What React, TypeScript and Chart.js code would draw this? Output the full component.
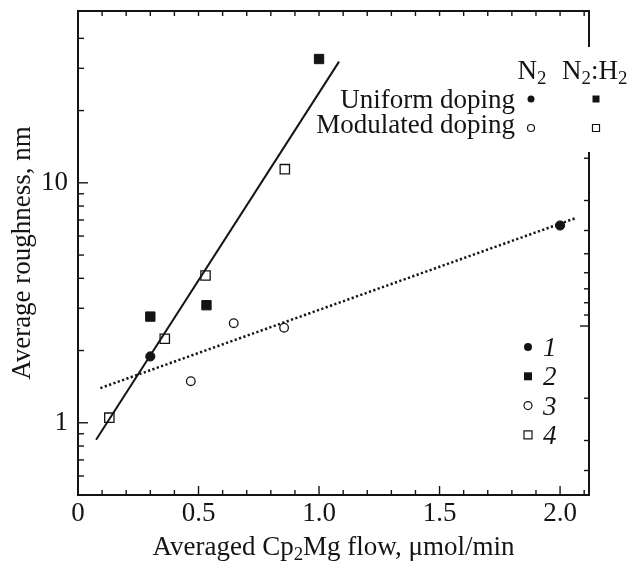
import React, { useEffect, useRef } from "react";
import { Chart, registerables } from "chart.js";

Chart.register(...registerables);

const FONT = "'Liberation Serif', 'Times New Roman', serif";
const INK = "#141414";
const FS = 27;

// Data
const uniformN2X = [0.3, 2.0];
const uniformN2Y = [1.89, 6.64];
const uniformN2H2X = [0.3, 0.533, 1.0];
const uniformN2H2Y = [2.77, 3.09, 32.8];
const modulatedN2X = [0.468, 0.646, 0.855];
const modulatedN2Y = [1.49, 2.6, 2.49];
const modulatedN2H2X = [0.13, 0.36, 0.529, 0.858];
const modulatedN2H2Y = [1.05, 2.24, 4.11, 11.4];
const fitSolidX = [0.075, 1.083];
const fitSolidY = [0.85, 32];
const fitDottedX = [0.093, 2.065];
const fitDottedY = [1.395, 7.13];

// Ticks
const xTicks = [0, 0.1, 0.2, 0.3, 0.4, 0.5, 0.6, 0.7, 0.8, 0.9, 1.0, 1.1, 1.2, 1.3, 1.4, 1.5, 1.6, 1.7, 1.8, 1.9, 2.0, 2.1];
const xMajor = [0, 0.5, 1.0, 1.5, 2.0];
const xLabels = ["0", "0.5", "1.0", "1.5", "2.0"];
const yTicksLeft = [0.6, 0.7, 0.8, 0.9, 1, 2, 3, 4, 5, 6, 7, 8, 9, 10, 20, 30, 40];
const yMajorLeft = [1, 10];
const yLabelsLeft = ["1", "10"];
const yTicksRight = [2, 3, 4, 5, 6, 7, 8, 9, 10, 20, 30, 40];
const yMajorRight = [10];

const legendNumbers = ["1", "2", "3", "4"];
const legendRows = ["Uniform doping", "Modulated doping"];
const xTitle = [
  { t: "Averaged Cp" },
  { t: "2", sub: true },
  { t: "Mg flow, \u03bcmol/min" },
];
const yTitle = "Average roughness, nm";

const pts = (xs: number[], ys: number[]) => xs.map((x, i) => ({ x, y: ys[i] }));

type Part = { t: string; sub?: boolean };

function drawRich(ctx: CanvasRenderingContext2D, parts: Part[], x: number, y: number, align: "left" | "center" | "right", size: number) {
  const subSize = size * 0.7;
  const widths = parts.map((p) => {
    ctx.font = `${p.sub ? subSize : size}px ${FONT}`;
    return ctx.measureText(p.t).width;
  });
  const total = widths.reduce((a, b) => a + b, 0);
  let cx = align === "left" ? x : align === "center" ? x - total / 2 : x - total;
  ctx.textAlign = "left";
  ctx.textBaseline = "alphabetic";
  parts.forEach((p, i) => {
    ctx.font = `${p.sub ? subSize : size}px ${FONT}`;
    ctx.fillText(p.t, cx, p.sub ? y + size * 0.2 : y);
    cx += widths[i];
  });
}

function symbol(ctx: CanvasRenderingContext2D, kind: "fc" | "fs" | "oc" | "os", x: number, y: number, r: number) {
  ctx.beginPath();
  if (kind === "fc" || kind === "oc") ctx.arc(x, y, r, 0, Math.PI * 2);
  else ctx.rect(x - r, y - r, 2 * r, 2 * r);
  if (kind === "fc" || kind === "fs") {
    ctx.fillStyle = INK;
    ctx.fill();
  } else {
    ctx.fillStyle = "#fff";
    ctx.fill();
    ctx.lineWidth = 1.2;
    ctx.strokeStyle = INK;
    ctx.stroke();
  }
}

const decorPlugin = {
  id: "decor",
  afterDraw(chart: any) {
    const { ctx, chartArea: ca, scales } = chart;
    ctx.save();
    ctx.strokeStyle = INK;
    ctx.lineWidth = 1.4;
    const seg = (x1: number, y1: number, x2: number, y2: number) => {
      ctx.beginPath();
      ctx.moveTo(x1, y1);
      ctx.lineTo(x2, y2);
      ctx.stroke();
    };
    // inward tick marks
    for (const t of scales.x.ticks) {
      const px = scales.x.getPixelForValue(t.value);
      const len = xMajor.includes(t.value) ? 9 : 5;
      seg(px, ca.bottom, px, ca.bottom - len);
    }
    for (const t of scales.x2.ticks) {
      const px = scales.x2.getPixelForValue(t.value);
      seg(px, ca.top, px, ca.top + 5);
    }
    for (const t of scales.y.ticks) {
      const py = scales.y.getPixelForValue(t.value);
      const len = yMajorLeft.includes(t.value) ? 10 : 6;
      seg(ca.left, py, ca.left + len, py);
    }
    for (const t of scales.y2.ticks) {
      const py = scales.y2.getPixelForValue(t.value);
      const len = yMajorRight.includes(t.value) ? 9 : 5;
      seg(ca.right, py, ca.right - len, py);
    }

    // gap in right border behind the legend
    ctx.fillStyle = "#fff";
    ctx.fillRect(ca.right - 4, ca.top + 36, 8, 105);

    // header legend
    ctx.fillStyle = INK;
    const col1 = ca.right - 58;
    const col2 = ca.right + 7;
    drawRich(ctx, [{ t: "N" }, { t: "2", sub: true }], col1 + 1, ca.top + 68, "center", FS);
    drawRich(ctx, [{ t: "N" }, { t: "2", sub: true }, { t: ":H" }, { t: "2", sub: true }], ca.right - 27, ca.top + 68, "left", FS);
    drawRich(ctx, [{ t: legendRows[0] }], col1 - 16, ca.top + 97, "right", FS);
    drawRich(ctx, [{ t: legendRows[1] }], col1 - 16, ca.top + 122, "right", FS);
    symbol(ctx, "fc", col1, ca.top + 88, 3.5);
    symbol(ctx, "fs", col2, ca.top + 88, 3.5);
    symbol(ctx, "oc", col1, ca.top + 117, 3.5);
    symbol(ctx, "os", col2, ca.top + 117, 3.5);

    // numbered legend
    const kinds: ("fc" | "fs" | "oc" | "os")[] = ["fc", "fs", "oc", "os"];
    const lx = ca.right - 61;
    legendNumbers.forEach((n, i) => {
      const cy = ca.top + 336 + i * 29.3;
      symbol(ctx, kinds[i], lx, cy, 4);
      ctx.fillStyle = INK;
      ctx.font = `italic ${FS}px ${FONT}`;
      ctx.textAlign = "left";
      ctx.textBaseline = "alphabetic";
      ctx.fillText(n, lx + 15, cy + 9);
    });

    // x axis title
    ctx.fillStyle = INK;
    drawRich(ctx, xTitle, (ca.left + ca.right) / 2, ca.bottom + 60, "center", FS);
    ctx.restore();
  },
};

export default function App() {
  const ref = useRef<HTMLCanvasElement | null>(null);

  useEffect(() => {
    document.body.style.margin = "0";
    const canvas = ref.current;
    if (!canvas) return;
    const tickFont = { family: FONT, size: FS };
    const fitX = (h: number) => (s: any) => {
      s.height = h;
      s.paddingLeft = 0;
      s.paddingRight = 0;
    };
    const fitY = (w: number) => (s: any) => {
      s.width = w;
      s.paddingTop = 0;
      s.paddingBottom = 0;
    };
    const chart = new Chart(canvas, {
      type: "scatter",
      data: {
        datasets: [
          {
            data: pts(fitSolidX, fitSolidY),
            showLine: true,
            borderColor: INK,
            borderWidth: 2,
            pointRadius: 0,
            xAxisID: "x",
            yAxisID: "y",
          },
          {
            data: pts(fitDottedX, fitDottedY),
            showLine: true,
            borderColor: INK,
            borderWidth: 2.5,
            borderDash: [2.2, 2.4],
            pointRadius: 0,
            xAxisID: "x",
            yAxisID: "y",
          },
          {
            data: pts(uniformN2X, uniformN2Y),
            pointStyle: "circle",
            pointRadius: 4.6,
            backgroundColor: INK,
            borderColor: INK,
            borderWidth: 1,
            xAxisID: "x",
            yAxisID: "y",
          },
          {
            data: pts(uniformN2H2X, uniformN2H2Y),
            pointStyle: "rect",
            pointRadius: 6.6,
            backgroundColor: INK,
            borderColor: INK,
            borderWidth: 1,
            xAxisID: "x",
            yAxisID: "y",
          },
          {
            data: pts(modulatedN2X, modulatedN2Y),
            pointStyle: "circle",
            pointRadius: 4.3,
            backgroundColor: "#fff",
            borderColor: INK,
            borderWidth: 1.3,
            xAxisID: "x",
            yAxisID: "y",
          },
          {
            data: pts(modulatedN2H2X, modulatedN2H2Y),
            pointStyle: "rect",
            pointRadius: 6.6,
            backgroundColor: "#fff",
            borderColor: INK,
            borderWidth: 1.3,
            xAxisID: "x",
            yAxisID: "y",
          },
        ],
      },
      options: {
        responsive: false,
        animation: false,
        devicePixelRatio: 1,
        layout: { padding: 0 },
        plugins: { legend: { display: false }, tooltip: { enabled: false } },
        scales: {
          x: {
            type: "linear",
            position: "bottom",
            min: 0,
            max: 2.12,
            bounds: "data",
            afterBuildTicks: (s: any) => {
              s.ticks = xTicks.map((v) => ({ value: v }));
            },
            afterFit: fitX(66),
            ticks: {
              autoSkip: false,
              maxRotation: 0,
              padding: 3,
              color: INK,
              font: tickFont,
              callback: (v: any) => {
                const i = xMajor.indexOf(Number(v));
                return i >= 0 ? xLabels[i] : "";
              },
            },
            grid: { display: false, drawTicks: false },
            border: { display: true, color: INK, width: 2 },
          },
          x2: {
            type: "linear",
            position: "top",
            min: 0,
            max: 2.12,
            bounds: "data",
            afterBuildTicks: (s: any) => {
              s.ticks = xTicks.map((v) => ({ value: v }));
            },
            afterFit: fitX(11),
            ticks: { display: false },
            grid: { display: false, drawTicks: false },
            border: { display: true, color: INK, width: 2 },
          },
          y: {
            type: "logarithmic",
            position: "left",
            min: 0.5,
            max: 52,
            bounds: "data",
            afterBuildTicks: (s: any) => {
              s.ticks = yTicksLeft.map((v) => ({ value: v }));
            },
            afterFit: fitY(78),
            ticks: {
              autoSkip: false,
              padding: 10,
              color: INK,
              font: tickFont,
              callback: (v: any) => {
                const i = yMajorLeft.indexOf(Number(v));
                return i >= 0 ? yLabelsLeft[i] : "";
              },
            },
            title: {
              display: true,
              text: yTitle,
              color: INK,
              font: { family: FONT, size: FS },
              padding: { top: 7, bottom: 0 },
            },
            grid: { display: false, drawTicks: false },
            border: { display: true, color: INK, width: 2 },
          },
          y2: {
            type: "logarithmic",
            position: "right",
            reverse: true,
            min: 0.487,
            max: 50.6,
            bounds: "data",
            afterBuildTicks: (s: any) => {
              s.ticks = yTicksRight.map((v) => ({ value: v }));
            },
            afterFit: fitY(47),
            ticks: { display: false },
            grid: { display: false, drawTicks: false },
            border: { display: true, color: INK, width: 2 },
          },
        },
      } as any,
      plugins: [decorPlugin],
    });
    return () => chart.destroy();
  }, []);

  return (
    <div style={{ width: 636, height: 561, background: "#fff" }}>
      <canvas ref={ref} width={636} height={561} style={{ display: "block" }} />
    </div>
  );
}
